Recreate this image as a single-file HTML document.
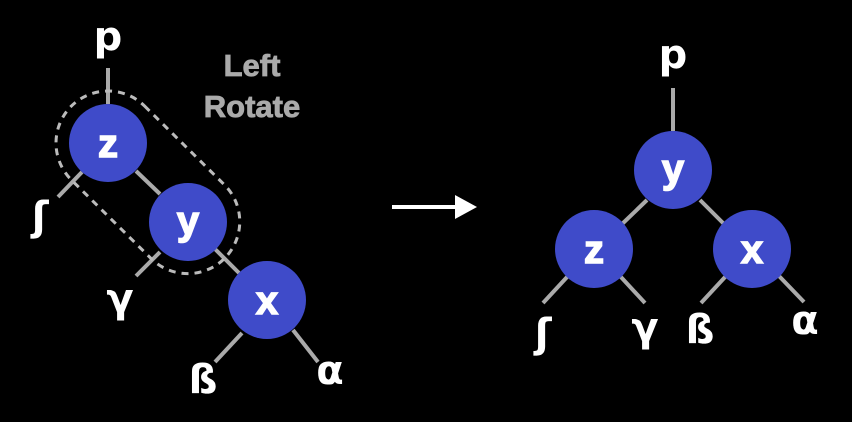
<!DOCTYPE html>
<html><head><style>html,body{margin:0;background:#000;}svg{display:block}
text{font-family:"Liberation Sans","DejaVu Sans",sans-serif;font-weight:700;}
.g text{font-family:"DejaVu Sans",sans-serif;font-weight:700;}
</style></head><body>
<svg width="852" height="422" viewBox="0 0 852 422" xmlns="http://www.w3.org/2000/svg">
<rect width="852" height="422" fill="#000"/>
<g stroke="#aaa" stroke-width="4" fill="none">
<line x1="108" y1="68" x2="108" y2="104"/>
<line x1="58" y1="197" x2="82" y2="172"/>
<line x1="136" y1="276" x2="160" y2="252"/>
<line x1="215" y1="362" x2="242" y2="333"/>
<line x1="318" y1="362" x2="293" y2="330"/>
<line x1="136" y1="171" x2="160" y2="194"/>
<line x1="215" y1="249" x2="239" y2="273"/>
<line x1="673" y1="88" x2="673" y2="131"/>
<line x1="647" y1="200" x2="620" y2="226"/>
<line x1="700" y1="200" x2="726" y2="226"/>
<line x1="568" y1="276" x2="543" y2="303"/>
<line x1="620" y1="276" x2="645" y2="303"/>
<line x1="726" y1="276" x2="701" y2="303"/>
<line x1="779" y1="276" x2="804" y2="302"/>
</g>
<rect x="-52" y="-52" width="216" height="104" rx="52" transform="translate(108,143) rotate(44.6)" fill="none" stroke="#bbb" stroke-width="3" stroke-dasharray="7,6"/>
<g fill="#3f4bc9">
<circle cx="108" cy="143" r="39"/><circle cx="188" cy="222" r="39"/><circle cx="267" cy="300" r="39"/>
<circle cx="673" cy="170" r="39"/><circle cx="594" cy="249" r="39"/><circle cx="752" cy="249" r="39"/>
</g>
<g fill="#fff" stroke="#fff" stroke-width="1.5" font-size="40" text-anchor="middle">
<text x="108" y="157">z</text><text x="188" y="234">y</text><text x="267" y="314">x</text>
<text x="673" y="182">y</text><text x="594" y="263">z</text><text x="752" y="263">x</text>
</g>
<g class="g" fill="#fff" font-size="40" text-anchor="middle">
<text x="108" y="50">p</text>
<text x="40" y="230">ʃ</text>
<text x="120" y="312">γ</text>
<text x="203" y="393">ß</text>
<text x="330" y="384">α</text>
<text x="673" y="68">p</text>
<text x="543" y="347">ʃ</text>
<text x="645" y="341">γ</text>
<text x="700" y="343">ß</text>
<text x="805" y="334">α</text>
</g>
<g fill="#aaa" stroke="#aaa" stroke-width="0.8" font-size="31" text-anchor="middle">
<text x="252" y="76">Left</text>
<text x="252" y="117">Rotate</text>
</g>
<line x1="392" y1="207" x2="458" y2="207" stroke="#fff" stroke-width="4"/>
<polygon points="455,195 477,207 455,219" fill="#fff"/>
</svg>
</body></html>
